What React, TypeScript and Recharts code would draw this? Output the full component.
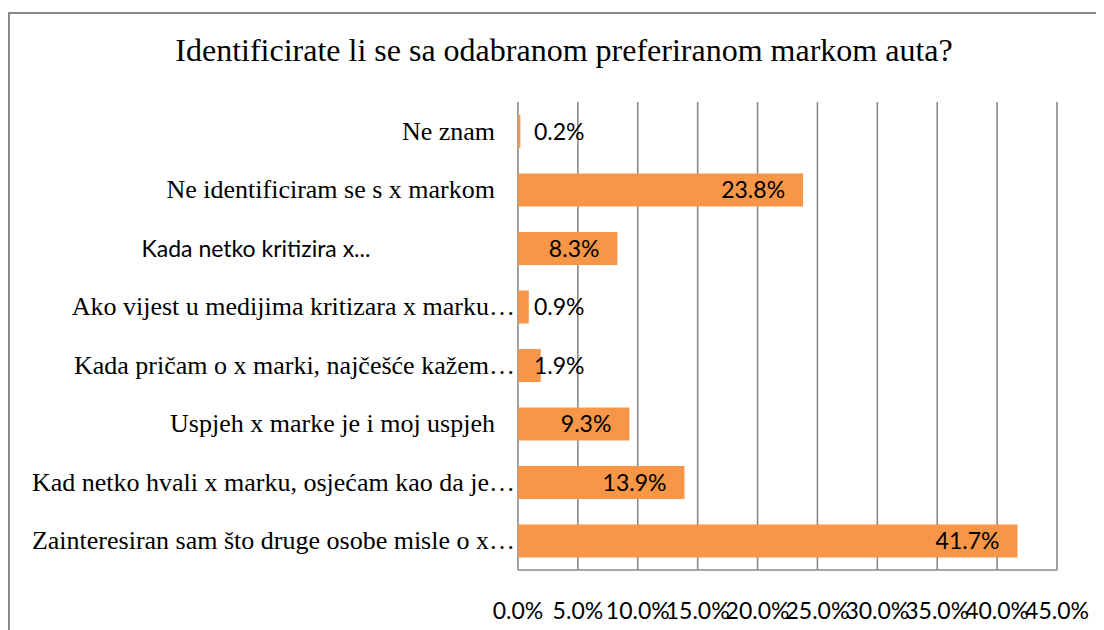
import { BarChart, Bar, XAxis, YAxis, CartesianGrid, LabelList } from 'recharts'

const categories = [
    'Ne znam',
    'Ne identificiram se s x markom',
    'Kada netko kritizira x...',
    'Ako vijest u medijima kritizara x marku…',
    'Kada pričam o x marki, najčešće kažem…',
    'Uspjeh x marke je i moj uspjeh',
    'Kad netko hvali x marku, osjećam kao da je…',
    'Zainteresiran sam što druge osobe misle o x…',
]
const shares = [0.2, 23.8, 8.3, 0.9, 1.9, 9.3, 13.9, 41.7]
const xTicks = [0, 5, 10, 15, 20, 25, 30, 35, 40, 45]

const data = categories.map((name, i) => ({ name, value: shares[i] }))

const SERIF = '"Liberation Serif", "Times New Roman", serif'
const SANS = 'Lato, "Open Sans", sans-serif'
const GRID = '#898989'
const ORANGE = '#F79646'

function CategoryTick({ x, y, payload }: any) {
    const label: string = payload.value
    // this one label came out in the sans font in the original
    if (label.endsWith('...')) {
        return (
            <text x={x - 262} y={y} dy="0.36em" textAnchor="middle" style={{ fontFamily: SANS, fontSize: 23 }} fill="#000">
                {label}
            </text>
        )
    }
    const cut = label.endsWith('…')
    return (
        <text x={x - (cut ? 3 : 23)} y={y} dy="0.33em" textAnchor="end" style={{ fontFamily: SERIF, fontSize: 26 }} fill="#000">
            {label}
        </text>
    )
}

function ValueLabel({ x, y, width, height, value }: any) {
    const short = width < 70
    return (
        <text
            x={short ? x + 16 : x + width - 18}
            y={y + height / 2}
            dy="0.36em"
            textAnchor={short ? 'start' : 'end'}
            style={{ fontFamily: SANS, fontSize: 23 }}
            fill="#000"
        >
            {value.toFixed(1)}%
        </text>
    )
}

export default function App() {
    return (
        <div style={{ paddingTop: 4 }}>
            <div
                style={{
                    position: 'relative',
                    width: 1096,
                    height: 618,
                    borderLeft: `2px solid ${GRID}`,
                    borderTop: `2px solid ${GRID}`,
                    background: '#fff',
                }}
            >
                <div
                    style={{
                        position: 'absolute',
                        left: 0,
                        top: 16,
                        width: 1108,
                        textAlign: 'center',
                        fontFamily: SERIF,
                        fontSize: 32,
                        lineHeight: '40px',
                        color: '#000',
                    }}
                >
                    Identificirate li se sa odabranom preferiranom markom auta?
                </div>
                <BarChart
                    width={1094}
                    height={616}
                    data={data}
                    layout="vertical"
                    margin={{ top: 88, right: 47, bottom: 0, left: 8 }}
                >
                    <CartesianGrid horizontal={false} stroke={GRID} strokeWidth={1.6} />
                    <XAxis
                        type="number"
                        domain={[0, 45]}
                        ticks={xTicks}
                        interval={0}
                        height={60}
                        tickLine={false}
                        tickSize={0}
                        tickMargin={33}
                        axisLine={{ stroke: GRID, strokeWidth: 1.6 }}
                        tickFormatter={(v: number) => `${v.toFixed(1)}%`}
                        tick={{ fontFamily: SANS, fontSize: 23, fill: '#000' }}
                    />
                    <YAxis
                        type="category"
                        dataKey="name"
                        width={500}
                        axisLine={false}
                        tickLine={false}
                        tickSize={0}
                        tickMargin={0}
                        interval={0}
                        tick={<CategoryTick />}
                    />
                    <Bar dataKey="value" fill={ORANGE} barSize={33} isAnimationActive={false}>
                        <LabelList dataKey="value" content={<ValueLabel />} />
                    </Bar>
                </BarChart>
            </div>
        </div>
    )
}
